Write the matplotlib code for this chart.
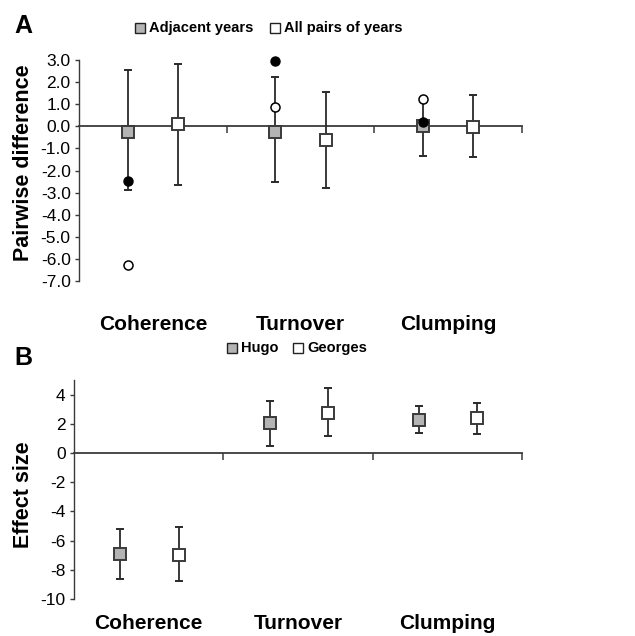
import matplotlib
matplotlib.use("Agg")
import matplotlib.pyplot as plt
from matplotlib import font_manager
import numpy as np

plt.rcParams['font.family'] = ['Liberation Sans', 'DejaVu Sans']
names = {f.name for f in font_manager.fontManager.ttflist}
NARROW = ['Liberation Sans Narrow', 'Liberation Sans', 'DejaVu Sans'] if 'Liberation Sans Narrow' in names else ['Liberation Sans', 'DejaVu Sans']
narrow_ok = 'Liberation Sans Narrow' in names

categories = ["Coherence", "Turnover", "Clumping"]

# Panel A: pairwise differences
a_series = ["Adjacent years", "All pairs of years"]
a_mean = [[-0.27, -0.24, 0.03], [0.09, -0.63, -0.03]]
a_low = [[-2.87, -2.52, -1.34], [-2.67, -2.79, -1.39]]
a_high = [[2.56, 2.22, 1.25], [2.84, 1.55, 1.40]]
a_black = [-2.49, 2.94, 0.18]
a_open = [-6.26, 0.87, 1.25]
a_yticks = [3.0, 2.0, 1.0, 0.0, -1.0, -2.0, -3.0, -4.0, -5.0, -6.0, -7.0]

# Panel B: effect sizes
b_series = ["Hugo", "Georges"]
b_mean = [[-6.93, 2.03, 2.28], [-6.98, 2.76, 2.37]]
b_low = [[-8.60, 0.50, 1.39], [-8.76, 1.14, 1.30]]
b_high = [[-5.20, 3.58, 3.24], [-5.10, 4.42, 3.44]]
b_yticks = [4, 2, 0, -2, -4, -6, -8, -10]

fills = ["#b4b4b4", "white"]
edge = "#3a3a3a"
W, H = 635, 636
fig = plt.figure(figsize=(6.35, 6.36), dpi=100)

cat_fs = 18 if narrow_ok else 15
leg_fs = 12.5 if narrow_ok else 10.5

def px_axes(l, r, t, b):
    return fig.add_axes([l / W, 1 - b / H, (r - l) / W, (b - t) / H])

def setup(ax, ylim, yticks, fmt):
    ax.set_xlim(-0.5, 2.5)
    ax.set_ylim(*ylim)
    for s in ["top", "right"]:
        ax.spines[s].set_visible(False)
    ax.spines["bottom"].set_position(("data", 0))
    ax.spines["bottom"].set_color(edge)
    ax.spines["bottom"].set_linewidth(1.3)
    ax.spines["left"].set_color(edge)
    ax.spines["left"].set_linewidth(1.0)
    ax.set_xticks([0.5, 1.5, 2.5])
    ax.set_xticklabels([])
    ax.tick_params(axis="x", direction="out", length=5, width=1.1, color=edge)
    ax.set_yticks(yticks)
    ax.set_yticklabels([fmt.format(v) for v in yticks], fontsize=12.5)
    ax.tick_params(axis="y", direction="out", length=3, width=1, color=edge, pad=3)
    ax.patch.set_alpha(0)

def draw(ax, means, lows, highs, offs, ms):
    x = np.arange(len(categories))
    for i in range(2):
        m = np.array(means[i]); lo = np.array(lows[i]); hi = np.array(highs[i])
        ax.errorbar(x + offs[i], m, yerr=[m - lo, hi - m], fmt="s", ms=ms,
                    mfc=fills[i], mec=edge, mew=1.4, ecolor="#2a2a2a",
                    elinewidth=1.3, capsize=3, capthick=1.3, zorder=3, clip_on=False)

# Panel A
axA = px_axes(79, 522, 60, 281)
setup(axA, (-7, 3), a_yticks, "{:.1f}")
draw(axA, a_mean, a_low, a_high, [-0.17, 0.17], 8)
xa = np.arange(3) - 0.17
axA.plot(xa, a_open, "o", ms=6.5, mfc="white", mec="black", mew=1.1, zorder=4, clip_on=False)
axA.plot(xa, a_black, "o", ms=6.5, mfc="black", mec="black", zorder=5, clip_on=False)
for i, c in enumerate(categories):
    axA.text(i, -8.95, c, ha="center", va="center", fontsize=cat_fs, fontweight="bold",
             family=NARROW)

# Panel B
axB = px_axes(74, 522, 380, 599)
setup(axB, (-10, 5), b_yticks, "{:d}")
draw(axB, b_mean, b_low, b_high, [-0.19, 0.20], 8.5)
for i, c in enumerate(categories):
    axB.text(i, -11.7, c, ha="center", va="center", fontsize=cat_fs, fontweight="bold",
             family=NARROW)

# Y labels
fig.text(24 / W, 1 - 163 / H, "Pairwise difference", rotation=90, ha="center", va="center",
         fontsize=15.5, fontweight="bold")
fig.text(24 / W, 1 - 495 / H, "Effect size", rotation=90, ha="center", va="center",
         fontsize=15.5, fontweight="bold")

# Panel letters
fig.text(14 / W, 1 - 26 / H, "A", ha="left", va="center", fontsize=18, fontweight="bold")
fig.text(14 / W, 1 - 358 / H, "B", ha="left", va="center", fontsize=18, fontweight="bold")

# Legends (manual)
def legend_item(xs, yc, fill, label):
    s = 10
    fig.patches.append(plt.Rectangle((xs / W, 1 - (yc + s / 2) / H), s / W, s / H,
                                     transform=fig.transFigure, facecolor=fill,
                                     edgecolor="#222222", linewidth=1.0))
    fig.text((xs + s + 4) / W, 1 - yc / H, label, ha="left", va="center",
             fontsize=leg_fs, fontweight="bold", family=NARROW)

legend_item(135, 28, fills[0], a_series[0])
legend_item(270, 28, fills[1], a_series[1])
legend_item(227, 348, fills[0], b_series[0])
legend_item(293, 348, fills[1], b_series[1])

fig.savefig("out.png", dpi=100, facecolor="white")
